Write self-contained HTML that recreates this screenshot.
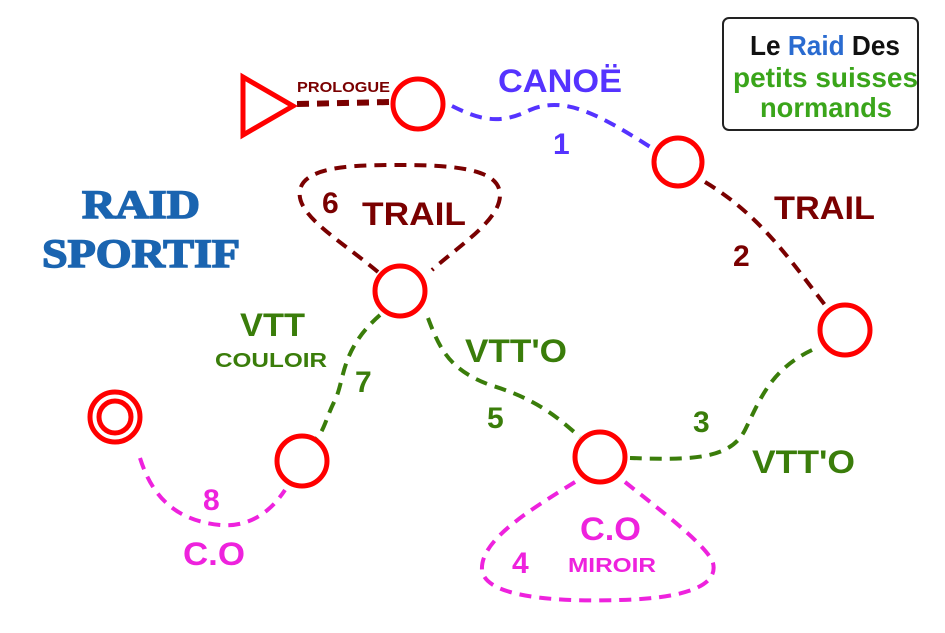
<!DOCTYPE html>
<html><head><meta charset="utf-8"><style>
html,body{margin:0;padding:0;background:#fff;width:945px;height:633px;overflow:hidden}
svg{display:block}
text{font-family:"Liberation Sans",sans-serif;font-weight:bold}
</style></head><body>
<svg width="945" height="633" viewBox="0 0 945 633" xmlns="http://www.w3.org/2000/svg">
<g fill="none" stroke-width="4" stroke-dasharray="12,8">
<path d="M297,104 L390,102" stroke="#7a0000" stroke-width="6"/>
<path d="M452,106 C480,120 500,125 530,110 C565,95 600,115 655,150" stroke="#5533ff"/>
<path d="M705,182 C760,215 790,260 825,305" stroke="#7a0000"/>
<path d="M812,350 C770,370 760,400 745,430 C730,460 690,460 630,458" stroke="#3a7d0a"/>
<path d="M428,318 C440,350 450,370 490,385 C540,400 560,420 580,437" stroke="#3a7d0a"/>
<path d="M378,272 C340,240 295,215 300,190 C305,165 360,165 400,165 C460,165 500,170 500,195 C500,220 460,245 432,270" stroke="#7a0000"/>
<path d="M380,315 C340,350 345,380 335,400 C325,420 325,430 315,440" stroke="#3a7d0a"/>
<path d="M140,458 C150,490 170,520 220,525 C255,528 275,505 285,490" stroke="#ee22dd"/>
<path d="M575,482 C530,510 480,540 482,570 C485,598 560,602 620,600 C700,598 720,580 712,560 C700,540 660,510 625,482" stroke="#ee22dd"/>
</g>
<g fill="#fff" stroke="#ff0000" stroke-width="5">
<polygon points="243,77 243,135 293,106"/>
<circle cx="418" cy="104" r="25"/>
<circle cx="678" cy="162" r="24"/>
<circle cx="845" cy="330" r="25"/>
<circle cx="600" cy="457" r="25"/>
<circle cx="400" cy="291" r="25"/>
<circle cx="302" cy="461" r="25"/>
<circle cx="115" cy="417" r="25"/>
<circle cx="115" cy="417" r="16"/>
</g>
<text x="297" y="92" font-size="15" fill="#7a0000" textLength="93" lengthAdjust="spacingAndGlyphs">PROLOGUE</text>
<text x="498" y="92" font-size="32" fill="#5533ff" textLength="124" lengthAdjust="spacingAndGlyphs">CANOË</text>
<text x="553" y="154" font-size="30" fill="#5533ff">1</text>
<text x="774" y="219" font-size="32" fill="#7a0000" textLength="101" lengthAdjust="spacingAndGlyphs">TRAIL</text>
<text x="733" y="266" font-size="30" fill="#7a0000">2</text>
<text x="693" y="432" font-size="30" fill="#3a7d0a">3</text>
<text x="752" y="473" font-size="32" fill="#3a7d0a" textLength="103" lengthAdjust="spacingAndGlyphs">VTT'O</text>
<text x="465" y="362" font-size="32" fill="#3a7d0a" textLength="102" lengthAdjust="spacingAndGlyphs">VTT'O</text>
<text x="487" y="428" font-size="30" fill="#3a7d0a">5</text>
<text x="322" y="213" font-size="30" fill="#7a0000">6</text>
<text x="362" y="225" font-size="32" fill="#7a0000" textLength="104" lengthAdjust="spacingAndGlyphs">TRAIL</text>
<text x="240" y="336" font-size="32" fill="#3a7d0a" textLength="65" lengthAdjust="spacingAndGlyphs">VTT</text>
<text x="215" y="367" font-size="20" fill="#3a7d0a" textLength="112" lengthAdjust="spacingAndGlyphs">COULOIR</text>
<text x="355" y="392" font-size="30" fill="#3a7d0a">7</text>
<text x="203" y="510" font-size="30" fill="#ee22dd">8</text>
<text x="183" y="565" font-size="32" fill="#ee22dd" textLength="62" lengthAdjust="spacingAndGlyphs">C.O</text>
<text x="580" y="540" font-size="32" fill="#ee22dd" textLength="61" lengthAdjust="spacingAndGlyphs">C.O</text>
<text x="568" y="572" font-size="20" fill="#ee22dd" textLength="88" lengthAdjust="spacingAndGlyphs">MIROIR</text>
<text x="512" y="573" font-size="30" fill="#ee22dd">4</text>
<text x="82" y="218" font-size="40" fill="#1a64b0" stroke="#1a64b0" stroke-width="1.5" style="font-family:'Liberation Serif',serif;font-weight:900" textLength="118" lengthAdjust="spacingAndGlyphs">RAID</text>
<text x="42" y="267" font-size="40" fill="#1a64b0" stroke="#1a64b0" stroke-width="1.5" style="font-family:'Liberation Serif',serif;font-weight:900" textLength="198" lengthAdjust="spacingAndGlyphs">SPORTIF</text>
<rect x="723" y="18" width="195" height="112" rx="6" fill="#fff" stroke="#222" stroke-width="2"/>
<text x="750" y="55" font-size="28" fill="#111" textLength="150" lengthAdjust="spacingAndGlyphs">Le <tspan fill="#2a6bd0">Raid</tspan> Des</text>
<text x="733" y="87" font-size="28" fill="#3aa51a" textLength="185" lengthAdjust="spacingAndGlyphs">petits suisses</text>
<text x="760" y="117" font-size="28" fill="#3aa51a" textLength="132" lengthAdjust="spacingAndGlyphs">normands</text>
</svg>
</body></html>
